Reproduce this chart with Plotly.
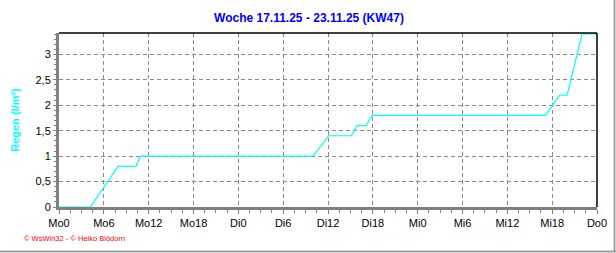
import plotly.graph_objects as go

# Data (hours since Monday 0:00, cumulative rain in l/m²)
hours = [0, 4.2, 7.9, 10.3, 10.9, 34.0, 36.1, 39.1, 39.9, 41.1, 41.9, 65.1, 67.0, 68.0, 70.0, 72]
rain = [0, 0, 0.8, 0.8, 1.0, 1.0, 1.4, 1.4, 1.6, 1.6, 1.8, 1.8, 2.2, 2.2, 3.4, 3.4]

x_tickvals = [0, 6, 12, 18, 24, 30, 36, 42, 48, 54, 60, 66, 72]
x_ticktext = ["Mo0", "Mo6", "Mo12", "Mo18", "Di0", "Di6", "Di12", "Di18",
              "Mi0", "Mi6", "Mi12", "Mi18", "Do0"]
y_tickvals = [0, 0.5, 1, 1.5, 2, 2.5, 3]
y_ticktext = ["0", "0,5", "1", "1,5", "2", "2,5", "3"]

title_text = "Woche 17.11.25 - 23.11.25 (KW47)"
y_title = "Regen (l/m²)"
footer = "© WsWin32 - © Heiko Blödorn"

W, H = 616, 253
L, R, T, B = 59, 597, 33, 207

fig = go.Figure()
fig.add_trace(go.Scatter(x=hours, y=rain, mode="lines",
                         line=dict(color="#00FFFF", width=1.2), showlegend=False))
# invisible trace for top axis ticks
fig.add_trace(go.Scatter(x=[0, 72], y=[0, 0], xaxis="x2", mode="lines",
                         line=dict(width=0), showlegend=False, hoverinfo="skip"))

font_family = "Liberation Sans, Arial, sans-serif"

fig.update_layout(
    width=W, height=H,
    margin=dict(l=L, r=W - R, t=T, b=H - B, pad=0, autoexpand=False),
    paper_bgcolor="white", plot_bgcolor="white",
    font=dict(family=font_family, size=11, color="black"),
    title=dict(text="<b>" + title_text + "</b>", x=309 / W, xanchor="center",
               xref="container", y=1 - 18 / H, yanchor="middle", yref="container",
               font=dict(family=font_family, size=12, color="#0000FF")),
    xaxis=dict(range=[0, 72], tickvals=x_tickvals, ticktext=x_ticktext,
               automargin=False,
               showgrid=True, gridcolor="#8a8a8a", griddash="4px,3px", gridwidth=1,
               showline=True, linecolor="#808080", linewidth=3,
               ticks="outside", ticklen=4, tickcolor="#808080", tickwidth=1,
               minor=dict(dtick=1.5, ticks="outside", ticklen=3, tickcolor="#808080",
                          showgrid=False),
               zeroline=False, tickfont=dict(size=11, color="black")),
    xaxis2=dict(range=[0, 72], overlaying="x", side="top", tickvals=x_tickvals,
                automargin=False,
                showticklabels=False, ticks="inside", ticklen=4, tickcolor="#808080",
                showgrid=False, zeroline=False, showline=False),
    yaxis=dict(range=[0, 3.42], tickvals=y_tickvals, ticktext=y_ticktext,
               automargin=False,
               showgrid=True, gridcolor="#8a8a8a", griddash="4px,3px", gridwidth=1,
               showline=True, linecolor="#808080", linewidth=3,
               ticks="outside", ticklen=3, tickcolor="#808080",
               minor=dict(dtick=0.1, ticks="outside", ticklen=2, tickcolor="#808080",
                          showgrid=False),
               zeroline=False, tickfont=dict(size=11, color="black"),
               title=dict(text="<b>" + y_title + "</b>", standoff=14,
                          font=dict(family=font_family, size=11, color="#00FFFF"))),
)

# top and right black border
fig.add_shape(type="line", xref="paper", yref="paper", x0=0, x1=1, y0=1, y1=1,
              line=dict(color="black", width=1.5))
fig.add_shape(type="line", xref="paper", yref="paper", x0=1, x1=1, y0=0, y1=1,
              line=dict(color="black", width=1.5))
# outer gray frame (right and bottom edges of image)
pw, ph = R - L, B - T
fig.add_shape(type="line", xref="paper", yref="paper",
              x0=(614.5 - L) / pw, x1=(614.5 - L) / pw, y0=(B - 0) / ph, y1=(B - 251.5) / ph,
              line=dict(color="#A0A0A0", width=2))
fig.add_shape(type="line", xref="paper", yref="paper",
              x0=(0 - L) / pw, x1=(616 - L) / pw, y0=(B - 251.5) / ph, y1=(B - 251.5) / ph,
              line=dict(color="#A0A0A0", width=2))

fig.add_annotation(text=footer, xref="paper", yref="paper",
                   x=(22 - L) / pw, y=(B - 238) / ph, xanchor="left", yanchor="middle",
                   showarrow=False, font=dict(family=font_family, size=7.5, color="#FF0000"))

fig.write_html("out.html")
